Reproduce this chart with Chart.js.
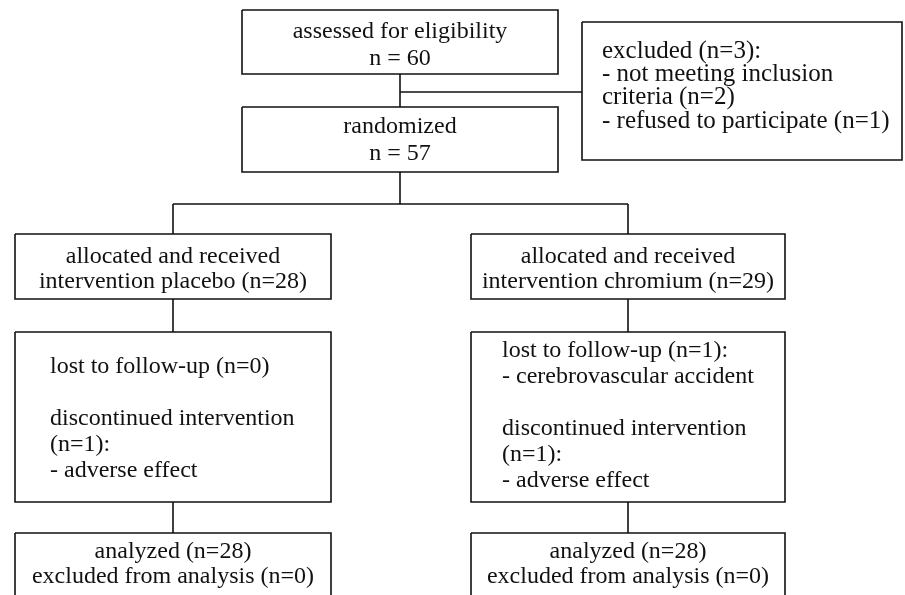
<!DOCTYPE html>
<html>
<head>
    <title>Study Flow Diagram</title>
    <meta charset="UTF-8">
    <script src="https://cdn.jsdelivr.net/npm/chart.js"></script>
    <style>
        html, body { margin: 0; padding: 0; background: #fff; }
        #wrap { width: 905px; height: 595px; }
    </style>
</head>
<body>
    <div id="wrap"><canvas id="flow"></canvas></div>

    <script>
        // Box texts (data)
        const screeningLines = ['assessed for eligibility', 'n = 60'];
        const exclusionLines = ['excluded (n=3):', '- not meeting inclusion', 'criteria (n=2)', '- refused to participate (n=1)'];
        const randomizedLines = ['randomized', 'n = 57'];
        const placeboAllocLines = ['allocated and received', 'intervention placebo (n=28)'];
        const chromiumAllocLines = ['allocated and received', 'intervention chromium (n=29)'];
        const placeboFollowLines = ['lost to follow-up (n=0)', '', 'discontinued intervention', '(n=1):', '- adverse effect'];
        const chromiumFollowLines = ['lost to follow-up (n=1):', '- cerebrovascular accident', '', 'discontinued intervention', '(n=1):', '- adverse effect'];
        const placeboAnalysisLines = ['analyzed (n=28)', 'excluded from analysis (n=0)'];
        const chromiumAnalysisLines = ['analyzed (n=28)', 'excluded from analysis (n=0)'];

        // Layout in the diagram's own units (x: 0..905, y: 0..595 from top)
        const boxes = [
            { lines: screeningLines,       x0: 242, y0: 10,  x1: 558, y1: 74,  align: 'center', tx: 400, ty: 38,  lh: 27,   size: 24 },
            { lines: exclusionLines,       x0: 582, y0: 22,  x1: 902, y1: 160, align: 'left',   tx: 602, ty: 58,  lh: 23.2, size: 25 },
            { lines: randomizedLines,      x0: 242, y0: 107, x1: 558, y1: 172, align: 'center', tx: 400, ty: 133, lh: 27,   size: 24 },
            { lines: placeboAllocLines,    x0: 15,  y0: 234, x1: 331, y1: 299, align: 'center', tx: 173, ty: 263, lh: 25,   size: 24 },
            { lines: chromiumAllocLines,   x0: 471, y0: 234, x1: 785, y1: 299, align: 'center', tx: 628, ty: 263, lh: 25,   size: 24 },
            { lines: placeboFollowLines,   x0: 15,  y0: 332, x1: 331, y1: 502, align: 'left',   tx: 50,  ty: 373, lh: 26,   size: 24 },
            { lines: chromiumFollowLines,  x0: 471, y0: 332, x1: 785, y1: 502, align: 'left',   tx: 502, ty: 357, lh: 26,   size: 24 },
            { lines: placeboAnalysisLines, x0: 15,  y0: 533, x1: 331, y1: 605, align: 'center', tx: 173, ty: 558, lh: 25,   size: 24 },
            { lines: chromiumAnalysisLines,x0: 471, y0: 533, x1: 785, y1: 605, align: 'center', tx: 628, ty: 558, lh: 25,   size: 24 }
        ];

        const connectors = [
            [[400, 74], [400, 107]],
            [[400, 92], [582, 92]],
            [[400, 172], [400, 204]],
            [[173, 204], [628, 204]],
            [[173, 204], [173, 234]],
            [[628, 204], [628, 234]],
            [[173, 299], [173, 332]],
            [[628, 299], [628, 332]],
            [[173, 502], [173, 533]],
            [[628, 502], [628, 533]]
        ];

        const lineStyle = {
            type: 'line',
            showLine: true,
            borderColor: '#111',
            borderWidth: 1.6,
            borderJoinStyle: 'miter',
            pointRadius: 0,
            tension: 0,
            fill: false
        };

        const datasets = [];
        boxes.forEach(b => {
            datasets.push(Object.assign({}, lineStyle, {
                data: [
                    { x: b.x0, y: b.y0 }, { x: b.x1, y: b.y0 },
                    { x: b.x1, y: b.y1 }, { x: b.x0, y: b.y1 },
                    { x: b.x0, y: b.y0 }
                ]
            }));
        });
        connectors.forEach(c => {
            datasets.push(Object.assign({}, lineStyle, {
                data: c.map(p => ({ x: p[0], y: p[1] }))
            }));
        });

        // Draw box texts through the scales
        const boxText = {
            id: 'boxText',
            afterDatasetsDraw(chart) {
                const ctx = chart.ctx;
                const xs = chart.scales.x, ys = chart.scales.y;
                ctx.save();
                ctx.fillStyle = '#111';
                ctx.textBaseline = 'alphabetic';
                boxes.forEach(b => {
                    ctx.font = b.size + 'px "Liberation Serif", "Times New Roman", serif';
                    ctx.textAlign = b.align;
                    b.lines.forEach((t, i) => {
                        if (!t) return;
                        ctx.fillText(t, xs.getPixelForValue(b.tx), ys.getPixelForValue(b.ty + i * b.lh));
                    });
                });
                ctx.restore();
            }
        };

        new Chart(document.getElementById('flow'), {
            type: 'scatter',
            data: { datasets: datasets },
            options: {
                responsive: true,
                maintainAspectRatio: false,
                animation: false,
                events: [],
                layout: { padding: 0 },
                plugins: { legend: { display: false }, tooltip: { enabled: false } },
                scales: {
                    x: { type: 'linear', min: 0, max: 905, display: false },
                    y: { type: 'linear', min: 0, max: 595, reverse: true, display: false }
                }
            },
            plugins: [boxText]
        });
    </script>
</body>
</html>
